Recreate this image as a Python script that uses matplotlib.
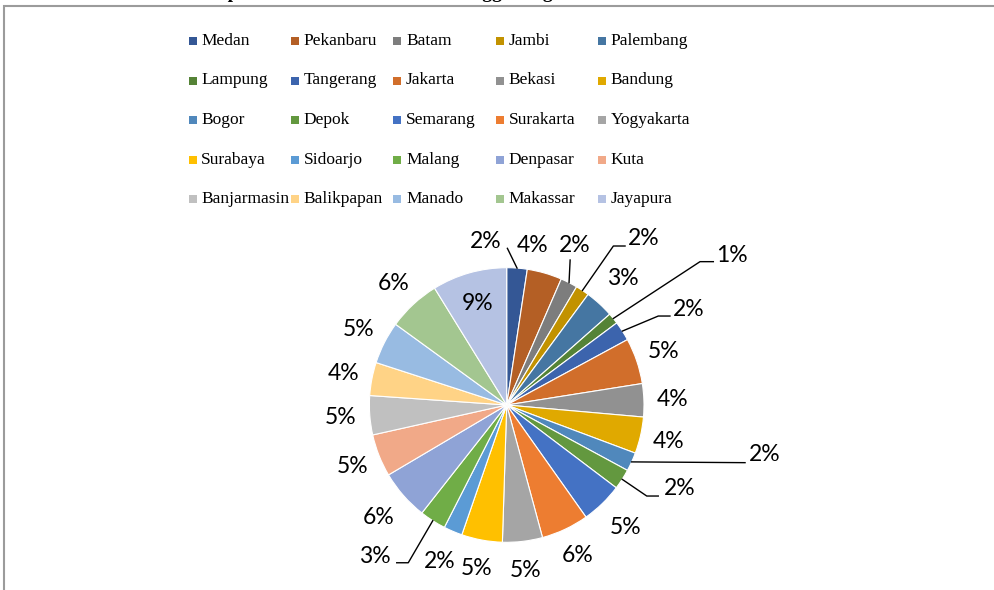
import numpy as np
import matplotlib.pyplot as plt
from matplotlib.patches import Rectangle

# data (share of respondents, %)
cities = ['Medan', 'Pekanbaru', 'Batam', 'Jambi', 'Palembang',
          'Lampung', 'Tangerang', 'Jakarta', 'Bekasi', 'Bandung',
          'Bogor', 'Depok', 'Semarang', 'Surakarta', 'Yogyakarta',
          'Surabaya', 'Sidoarjo', 'Malang', 'Denpasar', 'Kuta',
          'Banjarmasin', 'Balikpapan', 'Manado', 'Makassar', 'Jayapura']
persen = [2.4, 4.1, 2.0, 1.6, 3.4,
          1.3, 2.3, 5.4, 3.9, 4.3,
          2.2, 2.4, 4.9, 5.6, 4.7,
          4.8, 2.2, 3.1, 5.9, 5.0,
          4.6, 3.9, 5.0, 6.2, 8.8]
warna = ['#345795', '#B45F25', '#7D7D7D', '#C29200', '#4576A2',
         '#558336', '#3C64AD', '#D16E2B', '#919191', '#E0A900',
         '#5088BC', '#63983F', '#4472C4', '#ED7D31', '#A5A5A5',
         '#FFC000', '#5B9BD5', '#70AD47', '#8FA3D6', '#F1A988',
         '#C0C0C0', '#FFD386', '#98BBE2', '#A3C690', '#B5C2E3']
judul = 'Gambar 4.2 Distribusi Responden Berdasarkan Kota Tinggal Juga'

W, H = 995, 590
fig = plt.figure(figsize=(W / 100, H / 100), dpi=100)

# caption of the page, cut off by the top edge in the reference
fig.text(6 / W, 1 + 1.5 / H, judul, fontsize=14, fontweight='bold',
         family='Liberation Serif', va='baseline')
# chart frame
fig.add_artist(Rectangle((4 / W, -0.05), 1.1, 1.05 - 5.5 / H, transform=fig.transFigure,
                         fill=False, edgecolor='#9b9b9b', lw=1.5))

# legend, 5 columns
lx0, ly0, ldx, ldy = 188.7, 41, 102.4, 39.5
for i, (c, w) in enumerate(zip(cities, warna)):
    col, row = i % 5, i // 5
    x = lx0 + col * ldx
    y = ly0 + row * ldy
    fig.add_artist(Rectangle((x / W, 1 - (y + 4) / H), 8 / W, 8 / H,
                             transform=fig.transFigure, color=w, lw=0))
    fig.text((x + 12.5) / W, 1 - y / H, c, fontsize=12.5,
             family='Liberation Serif', va='center')

# pie
cx, cy, r = 506.7, 405, 137.3
ax = fig.add_axes([(cx - r) / W, 1 - (cy + r) / H, 2 * r / W, 2 * r / H])
wedges, _ = ax.pie(persen, colors=warna, startangle=90, counterclock=False,
                   wedgeprops=dict(edgecolor='white', linewidth=0.8))
ax.set_xlim(-1, 1)
ax.set_ylim(-1, 1)
ax.axis('off')

# label layout
label_r = {'Jayapura': 0.77, 'Palembang': 1.25, 'Semarang': 1.24,
           'Sidoarjo': 1.24, 'Denpasar': 1.24}
label_pos = {'Medan': (-0.153, 1.189), 'Pekanbaru': (0.189, 1.165),
             'Batam': (0.497, 1.165), 'Jambi': (0.995, 1.214),
             'Lampung': (1.639, 1.092), 'Tangerang': (1.323, 0.697),
             'Bogor': (1.881, -0.364), 'Depok': (1.262, -0.607),
             'Malang': (-0.959, -1.105)}
# leader line points relative to the label centre
leader = {'Medan': [(0.158, -0.048)],
          'Batam': [(-0.035, -0.109)],
          'Jambi': [(-0.133, -0.056), (-0.218, -0.056)],
          'Lampung': [(-0.134, -0.048), (-0.231, -0.048)],
          'Tangerang': [(-0.134, -0.049), (-0.219, -0.049)],
          'Bogor': [(-0.145, -0.056)],
          'Depok': [(-0.158, -0.056), (-0.242, -0.056)],
          'Malang': [(0.158, -0.044), (0.242, -0.044)]}

total = sum(persen)
for c, p, wd in zip(cities, persen, wedges):
    mid = np.deg2rad((wd.theta1 + wd.theta2) / 2)
    if c in label_pos:
        lx, ly = label_pos[c]
    else:
        rr = label_r.get(c, 1.21)
        lx, ly = rr * np.cos(mid), rr * np.sin(mid)
    ax.text(lx, ly, '%.0f%%' % (p / total * 100), ha='center', va='center',
            fontsize=16.5, family='Lato', color='black', clip_on=False)
    if c in leader:
        xs = [lx + d[0] for d in leader[c]] + [np.cos(mid)]
        ys = [ly + d[1] for d in leader[c]] + [np.sin(mid)]
        ax.plot(xs, ys, color='black', lw=1, clip_on=False)

fig.savefig('out.png', dpi=100)
